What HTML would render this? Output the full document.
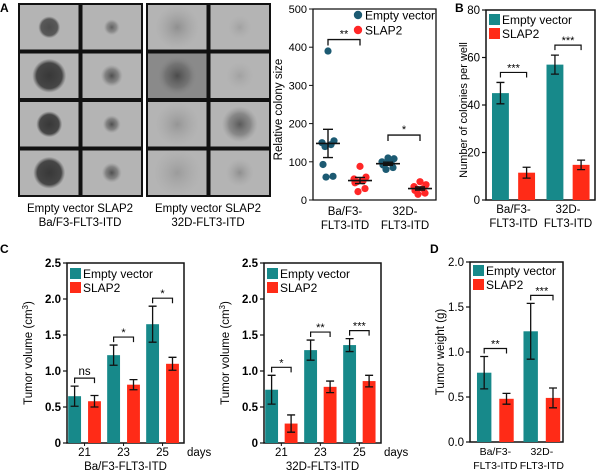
<!DOCTYPE html>
<html><head><meta charset="utf-8"><style>
html,body{margin:0;padding:0;background:#fff;}
svg{display:block;font-family:"Liberation Sans",Arial,sans-serif;}
</style></head><body>
<svg id="fig" width="600" height="473" viewBox="0 0 600 473" xmlns="http://www.w3.org/2000/svg">
<defs>
<radialGradient id="blobDark"><stop offset="0" stop-color="#2a2a2a"/><stop offset="0.75" stop-color="#3a3a3a"/><stop offset="1" stop-color="#555" stop-opacity="0"/></radialGradient>
<radialGradient id="blobMid"><stop offset="0" stop-color="#444"/><stop offset="0.6" stop-color="#666" stop-opacity="0.7"/><stop offset="1" stop-color="#888" stop-opacity="0"/></radialGradient>
<radialGradient id="blobFaint"><stop offset="0" stop-color="#777"/><stop offset="1" stop-color="#999" stop-opacity="0"/></radialGradient>
</defs>
<g id="panelA"></g>
<g id="scatter"></g>
<g id="panelB"></g>
<g id="panelC1"></g>
<g id="panelC2"></g>
<g id="panelD"></g>
<text x="0" y="12" font-size="12" font-weight="bold">A</text>
<text x="455" y="12" font-size="12" font-weight="bold">B</text>
<text x="0" y="253" font-size="12" font-weight="bold">C</text>
<text x="430" y="253" font-size="12" font-weight="bold">D</text>
<text x="80" y="212" font-size="11.5" text-anchor="middle">Empty vector SLAP2</text>
<text x="80" y="226" font-size="11.5" text-anchor="middle">Ba/F3-FLT3-ITD</text>
<text x="208" y="212" font-size="11.5" text-anchor="middle">Empty vector SLAP2</text>
<text x="208" y="226" font-size="11.5" text-anchor="middle">32D-FLT3-ITD</text>
</svg>
<script>
// ---------- data ----------
const scatterGroups = ["Ba/F3-FLT3-ITD", "32D-FLT3-ITD"];
const scatterEV1 = [390, 155, 150, 145, 140, 93, 62, 60];
const scatterSL1 = [88, 60, 55, 50, 48, 45, 30, 22];
const scatterEV2 = [110, 108, 100, 97, 95, 92, 85, 80];
const scatterSL2 = [48, 40, 35, 30, 28, 25, 18, 15];
const scatterMean = [148, 51, 95, 30];
const scatterSem = [37, 8, 4, 4];
const scatterTicks = [0, 100, 200, 300, 400, 500];

const bCategories = ["Ba/F3-FLT3-ITD", "32D-FLT3-ITD"];
const bEmpty = [45, 57];
const bEmptyErr = [4.5, 4];
const bSlap = [11.5, 14.8];
const bSlapErr = [2.3, 2];
const bTicks = [0, 20, 40, 60, 80];
const bSig = ["***", "***"];

const cDays = ["21", "23", "25"];
const c1Empty = [0.65, 1.22, 1.65];
const c1EmptyErr = [0.14, 0.14, 0.25];
const c1Slap = [0.58, 0.81, 1.10];
const c1SlapErr = [0.08, 0.07, 0.09];
const c1Sig = ["ns", "*", "*"];
const c2Empty = [0.74, 1.29, 1.36];
const c2EmptyErr = [0.20, 0.14, 0.09];
const c2Slap = [0.27, 0.78, 0.86];
const c2SlapErr = [0.12, 0.08, 0.08];
const c2Sig = ["*", "**", "***"];
const cTicks = ["0", "0.5", "1.0", "1.5", "2.0", "2.5"];

const dCategories = ["Ba/F3-FLT3-ITD", "32D-FLT3-ITD"];
const dEmpty = [0.77, 1.23];
const dEmptyErr = [0.18, 0.31];
const dSlap = [0.48, 0.49];
const dSlapErr = [0.06, 0.11];
const dSig = ["**", "***"];
const dTicks = ["0.0", "0.5", "1.0", "1.5", "2.0"];

const TEAL = "#17898a", RED = "#ff2b17", DOT_T = "#1c5a72", DOT_R = "#ff2626";
const NS = "http://www.w3.org/2000/svg";
function mk(parent, tag, attrs, text) {
  const e = document.createElementNS(NS, tag);
  for (const k in attrs) e.setAttribute(k, attrs[k]);
  if (text !== undefined) e.textContent = text;
  parent.appendChild(e);
  return e;
}

// ---------- panel A images ----------
(function () {
  const g = document.getElementById("panelA");
  const grids = [{x0: 18, x1: 143, blobs: [["blobDark",11,0.75],["blobMid",8,0.75],["blobDark",17,0.9],["blobMid",11,0.9],["blobDark",13,0.9],["blobMid",9,0.9],["blobDark",16,0.9],["blobMid",10,0.9]]},
                 {x0: 146, x1: 271, blobs: [["blobFaint",22,0.6],["blobFaint",12,0.3],["blobMid",20,0.9],["blobFaint",14,0.3],["blobFaint",22,0.5],["blobMid",18,0.8],["blobFaint",24,0.4],["blobFaint",14,0.6]]}];
  const y0 = 3, y1 = 197;
  grids.forEach((gr, gi) => {
    const bg = mk(g, "rect", {x: gr.x0, y: y0, width: gr.x1 - gr.x0, height: y1 - y0, fill: "#111"});
    
    
    const cw = (gr.x1 - gr.x0) / 2, ch = (y1 - y0) / 4;
    for (let r = 0; r < 4; r++) for (let c = 0; c < 2; c++) {
      const cx = gr.x0 + c * cw, cy = y0 + r * ch;
      const cell = mk(g, "rect", {x: cx + 2, y: cy + 2, width: cw - 4, height: ch - 4, fill: (gi === 1 && r === 1 && c === 0) ? "#8a8a8a" : "#b4b4b4"});
      
      
      const b = gr.blobs[r * 2 + c];
      const bl = mk(g, "circle", {cx: cx + cw / 2, cy: cy + ch / 2, r: b[1], fill: "url(#" + b[0] + ")", opacity: b[2]});
      
      
    }
  });
})();

// ---------- scatter ----------
(function () {
  const g = document.getElementById("scatter");
  const L = 313, R = 436, T = 9, B = 200, max = 500;
  const y = v => B - v / max * (B - T);
  const gx = [345, 405];
  const off = [-17, 15];
  const ax = mk(g, "path", {d: `M${L},${T} V${B} H${R} V${T} Z`, fill: "none", stroke: "#111", "stroke-width": 1.3});
  
  
  scatterTicks.forEach(t => {
    const tk = mk(g, "line", {x1: L - 4, x2: L, y1: y(t), y2: y(t), stroke: "#111"});
    
    
    const tl = mk(g, "text", {x: L - 6, y: y(t) + 4, "font-size": 11, "text-anchor": "end"}, String(t));
    
    
  });
  const yt = mk(g, "text", {x: 0, y: 0, "font-size": 11.5, "text-anchor": "middle", transform: `translate(282,${(T + B) / 2 + 5}) rotate(-90)`}, "Relative colony size");
  
  
  const series = [[scatterEV1, DOT_T], [scatterSL1, DOT_R], [scatterEV2, DOT_T], [scatterSL2, DOT_R]];
  series.forEach((s, i) => {
    const cx = gx[Math.floor(i / 2)] + off[i % 2];
    s[0].forEach((v, j) => {
      const jit = [0, 6, -6, 3, -3, -5, 5, -2][j];
      const c = mk(g, "circle", {cx: cx + jit, cy: y(v), r: 3.6, fill: s[1]});
      
      
    });
    const m = scatterMean[i], e = scatterSem[i];
    const ml = mk(g, "line", {x1: cx - 12, x2: cx + 12, y1: y(m), y2: y(m), stroke: "#111", "stroke-width": 1.6});
    
    
    const el = mk(g, "path", {d: `M${cx},${y(m - e)} V${y(m + e)} M${cx - 5},${y(m - e)} H${cx + 5} M${cx - 5},${y(m + e)} H${cx + 5}`, stroke: "#111", "stroke-width": 1.4, fill: "none"});
    
    
  });
  const sig = [["**", 420], ["*", 170]];
  sig.forEach((s, k) => {
    const x1 = gx[k] + off[0], x2 = gx[k] + off[1], yy = y(s[1]);
    const br = mk(g, "path", {d: `M${x1},${yy + 6} V${yy} H${x2} V${yy + 6}`, stroke: "#111", fill: "none", "stroke-width": 1.3});
    
    
    const st = mk(g, "text", {x: (x1 + x2) / 2, y: yy - 2, "font-size": 11, "text-anchor": "middle"}, s[0]);
    
    
  });
  scatterGroups.forEach((c, i) => {
    const parts = c.split("FLT3");
    const t1 = mk(g, "text", {x: gx[i], y: 215, "font-size": 11.5, "text-anchor": "middle"}, parts[0]);
    
    
    const t2 = mk(g, "text", {x: gx[i], y: 229, "font-size": 11.5, "text-anchor": "middle"}, "FLT3" + parts[1]);
    
    
  });
  [["Empty vector", DOT_T, 15], ["SLAP2", DOT_R, 30]].forEach(l => {
    const d = mk(g, "circle", {cx: 358, cy: l[2], r: 4.2, fill: l[1]});
    
    
    const t = mk(g, "text", {x: 365, y: l[2] + 4.5, "font-size": 12}, l[0]);
    
    
  });
})();

// ---------- generic bar chart ----------
function barChart(cfg) {
  const g = document.getElementById(cfg.id);
  const {L, R, T, B, max} = cfg;
  const y = v => B - v / max * (B - T);
  const ax = mk(g, "path", {d: `M${L},${T} V${B} H${R} V${T} Z`, fill: "none", stroke: "#111", "stroke-width": 1.5});
  
  
  cfg.ticks.forEach(t => {
    const v = parseFloat(t);
    const tk = mk(g, "line", {x1: L - 4, x2: L, y1: y(v), y2: y(v), stroke: "#111", "stroke-width": 1.2});
    
    
    const tl = mk(g, "text", {x: L - 6, y: y(v) + 4, "font-size": 11.5, "text-anchor": "end", "font-weight": cfg.boldTicks ? "bold" : "normal"}, String(t));
    
    
  });
  const yt = mk(g, "text", {x: 0, y: 0, "font-size": cfg.ytSize || 11.5, "text-anchor": "middle", transform: `translate(${cfg.ytX},${(T + B) / 2 + (cfg.ytDy || 0)}) rotate(-90)`});
  
  
  yt.textContent = cfg.ytitle;
  if (cfg.sup) { mk(yt, "tspan", {"baseline-shift": "super", "font-size": 8}, cfg.sup); mk(yt, "tspan", {}, ")"); }
  const n = cfg.ev.length;
  const gw = (R - L) / n;
  const xs = cfg.xSize || 11.5;
  cfg.ev.forEach((v, i) => {
    const x0 = L + gw * i;
    const ex = x0 + gw * cfg.p1, sx = x0 + gw * cfg.p2, bw = gw * cfg.bw;
    [[v, cfg.evErr[i], ex, TEAL, 'bar-empty-vector'], [cfg.sl[i], cfg.slErr[i], sx, RED, 'bar-slap2']].forEach(b => {
      const r = mk(g, "rect", {x: b[2], y: y(b[0]), width: bw, height: B - y(b[0]), fill: b[3]});
      
      
      const c = b[2] + bw / 2;
      const e = mk(g, "path", {d: `M${c},${y(b[0] - b[1])} V${y(b[0] + b[1])} M${c - 4},${y(b[0] - b[1])} H${c + 4} M${c - 4},${y(b[0] + b[1])} H${c + 4}`, stroke: "#111", "stroke-width": 1.3, fill: "none"});
      
      
    });
    const c1 = ex + bw / 2, c2 = sx + bw / 2;
    const top = Math.max(v + cfg.evErr[i], cfg.sl[i] + cfg.slErr[i]);
    const yy = y(top) - cfg.sigGap;
    const br = mk(g, "path", {d: `M${c1},${yy + 5} V${yy} H${c2} V${yy + 5}`, stroke: "#111", fill: "none", "stroke-width": 1.2});
    
    
    const st = mk(g, "text", {x: (c1 + c2) / 2, y: yy - (cfg.sig[i] === "ns" ? 3 : 1), "font-size": cfg.sig[i] === "ns" ? 11.5 : 11, "text-anchor": "middle"}, cfg.sig[i]);
    
    
    const cx = (c1 + c2) / 2;
    const lines = cfg.cats[i].split("\n");
    lines.forEach((ln, k) => {
      const t = mk(g, "text", {x: cx, y: B + 13 + k * 14, "font-size": xs, "text-anchor": "middle"}, ln);
      
      
    });
    if (cfg.xticks) {
      const tk = mk(g, "line", {x1: cx, x2: cx, y1: B, y2: B + 3, stroke: "#111"});
      
      
    }
  });
  if (cfg.days) {
    const t = mk(g, "text", {x: R + 3, y: B + 13, "font-size": 11.5}, "days");
    
    
  }
  if (cfg.xtitle) {
    const t = mk(g, "text", {x: (L + R) / 2, y: B + 27, "font-size": 11.5, "text-anchor": "middle"}, cfg.xtitle);
    
    
  }
  [["Empty vector", TEAL, 0], ["SLAP2", RED, 1]].forEach(l => {
    const yy = T + cfg.legY + l[2] * 14;
    const s = mk(g, "rect", {x: L + 3, y: yy, width: 11, height: 11, fill: l[1]});
    
    
    const t = mk(g, "text", {x: L + 16, y: yy + 10, "font-size": 12}, l[0]);
    
    
  });
}

barChart({id: "panelB", L: 486, R: 595, T: 10, B: 200, max: 80, ticks: bTicks, ytitle: "Number of colonies per well", ytX: 467, ytSize: 11, ytDy: 5,
  ev: bEmpty, evErr: bEmptyErr, sl: bSlap, slErr: bSlapErr, sig: bSig, cats: ["Ba/F3-\nFLT3-ITD", "32D-\nFLT3-ITD"],
  p1: 0.11, p2: 0.59, bw: 0.31, sigGap: 10, legY: 4});
barChart({id: "panelC1", L: 67, R: 184, T: 263, B: 443, max: 2.5, ticks: cTicks, ytitle: "Tumor volume (cm", sup: "3", ytX: 32, boldTicks: true,
  ev: c1Empty, evErr: c1EmptyErr, sl: c1Slap, slErr: c1SlapErr, sig: c1Sig, cats: cDays, xticks: true, days: true, xtitle: "Ba/F3-FLT3-ITD",
  p1: 0.03, p2: 0.54, bw: 0.33, sigGap: 8, legY: 5});
barChart({id: "panelC2", L: 264, R: 381, T: 263, B: 443, max: 2.5, ticks: cTicks, ytitle: "Tumor volume (cm", sup: "3", ytX: 229, boldTicks: true,
  ev: c2Empty, evErr: c2EmptyErr, sl: c2Slap, slErr: c2SlapErr, sig: c2Sig, cats: cDays, xticks: true, days: true, xtitle: "32D-FLT3-ITD",
  p1: 0.03, p2: 0.53, bw: 0.33, sigGap: 8, legY: 5});
barChart({id: "panelD", L: 470, R: 563, T: 262, B: 442, max: 2.0, ticks: dTicks, ytitle: "Tumor weight (g)", ytX: 444, xSize: 10.5,
  ev: dEmpty, evErr: dEmptyErr, sl: dSlap, slErr: dSlapErr, sig: dSig, cats: ["Ba/F3-\nFLT3-ITD", "32D-\nFLT3-ITD"],
  p1: 0.15, p2: 0.63, bw: 0.31, sigGap: 8, legY: 3});
</script>
</body></html>
